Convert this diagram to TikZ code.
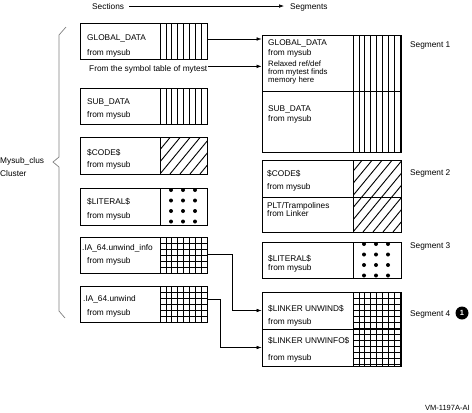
\documentclass[tikz,border=0pt]{standalone}
\usepackage{fontspec}
\setmainfont{Liberation Sans}
\usetikzlibrary{arrows.meta}
\tikzset{
  pat/.style={line width=0.8pt},
  box/.style={draw, line width=0.8pt, inner sep=0pt, rectangle},
  txt/.style={anchor=base west, inner sep=0pt},
  arr/.style={line width=0.6pt, -{Latex[length=5pt,width=3.6pt]}},
  conn/.style={line width=0.6pt},
}
\newcommand\myvlines[4]{\begin{scope}\clip (#1,#2) rectangle (#3,#4);
  \foreach \k in {0,...,9} \draw[pat] ({#1+\k*5.9},#2) -- ({#1+\k*5.9},#4);\end{scope}}
\newcommand\myhatch[4]{\begin{scope}\clip (#1,#2) rectangle (#3,#4);
  \foreach \k in {-8,...,8} \draw[line width=0.9pt] ({#1+\k*10},#4) -- ++(70,-85);\end{scope}}
\newcommand\mydots[4]{\begin{scope}\clip (#1,#2) rectangle (#3,#4);
  \foreach \c in {11,23,35} \foreach \r in {2,12.5,23,33.5} \fill ({#1+\c},{#2+\r}) circle (2);\end{scope}}
\newcommand\mygrid[4]{\begin{scope}\clip (#1,#2) rectangle (#3,#4);
  \foreach \k in {0,...,9} \draw[pat] ({#1+\k*5.9},#2) -- ({#1+\k*5.9},#4);
  \foreach \k in {1,...,12} \draw[pat] (#1,{#2+\k*6}) -- (#3,{#2+\k*6});\end{scope}}
\begin{document}
\begin{tikzpicture}[x=1pt,y=-1pt,font=\fontsize{8.3}{9}\selectfont]
\useasboundingbox (0,0) rectangle (472,413);
% header
\node[txt] (sec) at (92,9) {Sections};
\node[txt] (segs) at (290,9) {Segments};
\coordinate (h1) at ([xshift=5pt]sec.east);
\draw[arr] (h1) -- ([xshift=-6pt]h1 -| segs.west);
% cluster brace
\draw[gray, line width=0.7pt] (66,27) -- (59,35) -- (59,157) -- (53,162) -- (59,167) -- (59,311) -- (65,318);
\node[txt] (cl1) at (0,163) {Mysub\_clus};
\node[txt] (cl2) at (0,176) {Cluster};
% left patterns
\myvlines{160}{23}{207}{59}
\myvlines{160}{88}{207}{124}
\myhatch{160}{137}{207}{174}
\mydots{160}{188}{207}{225}
\mygrid{160}{237}{207}{273}
\mygrid{160}{286}{207}{322}
% left boxes
\node[box, minimum width=127pt, minimum height=36pt] (gd) at (143.5,41) {};
\node[box, minimum width=127pt, minimum height=36pt] (sd) at (143.5,106) {};
\node[box, minimum width=127pt, minimum height=37pt] (cd) at (143.5,155.5) {};
\node[box, minimum width=127pt, minimum height=37pt] (lt) at (143.5,206.5) {};
\node[box, minimum width=127pt, minimum height=36pt] (ui) at (143.5,255) {};
\node[box, minimum width=127pt, minimum height=36pt] (uw) at (143.5,304) {};
\foreach \y/\h in {23/59,88/124,137/174,188/225,237/273,286/322} \draw[line width=0.8pt] (160,\y) -- (160,\h);
% left texts
\node[txt] at (87,40) {GLOBAL\_DATA};
\node[txt] at (87,55) {from mysub};
\node[txt] (sym) at (89,71) {From the symbol table of mytest};
\node[txt] at (87,104) {SUB\_DATA};
\node[txt] at (87,117) {from mysub};
\node[txt] at (87,155) {\$CODE\$};
\node[txt] at (87,167) {from mysub};
\node[txt] at (87,204) {\$LITERAL\$};
\node[txt] at (87,218) {from mysub};
\node[txt] at (82,250) {.IA\_64.unwind\_info};
\node[txt] at (87,263) {from mysub};
\node[txt] at (83,301) {.IA\_64.unwind};
\node[txt] at (87,315) {from mysub};
% right patterns
\myvlines{353}{35}{401}{152}
\myhatch{353}{160}{401}{232}
\mydots{353}{242}{401}{278}
\mygrid{353}{292}{401}{366}
% right boxes
\node[box, minimum width=139pt, minimum height=56pt] (s1a) at (331.5,63) {};
\node[box, minimum width=139pt, minimum height=61pt] (s1b) at (331.5,121.5) {};
\node[box, minimum width=139pt, minimum height=37pt] (s2a) at (331.5,178.5) {};
\node[box, minimum width=139pt, minimum height=35pt] (s2b) at (331.5,214.5) {};
\node[box, minimum width=139pt, minimum height=36pt] (s3) at (331.5,260) {};
\node[box, minimum width=139pt, minimum height=37pt] (s4a) at (331.5,310.5) {};
\node[box, minimum width=139pt, minimum height=37pt] (s4b) at (331.5,347.5) {};
\foreach \y/\h in {35/152,160/232,242/278,292/366} \draw[line width=0.8pt] (353,\y) -- (353,\h);
% right texts
\node[txt] at (268,45) {GLOBAL\_DATA};
\node[txt] at (268,55) {from mysub};
\node[txt, font=\fontsize{7.8}{8}\selectfont] at (268,66) {Relaxed ref/def};
\node[txt, font=\fontsize{7.8}{8}\selectfont] at (268,74) {from mytest finds};
\node[txt, font=\fontsize{7.8}{8}\selectfont] at (268,82) {memory here};
\node[txt] at (268,111) {SUB\_DATA};
\node[txt] at (268,121) {from mysub};
\node[txt] at (267,176) {\$CODE\$};
\node[txt] at (267,189) {from mysub};
\node[txt] at (267,208) {PLT/Trampolines};
\node[txt] at (267,216) {from Linker};
\node[txt] at (268,261) {\$LITERAL\$};
\node[txt] at (268,270) {from mysub};
\node[txt] at (268,311) {\$LINKER UNWIND\$};
\node[txt] at (268,324) {from mysub};
\node[txt] at (268,343) {\$LINKER UNWINFO\$};
\node[txt] at (268,360) {from mysub};
% segment labels
\node[txt] (g1) at (410,47) {Segment 1};
\node[txt] (g2) at (410,175) {Segment 2};
\node[txt] (g3) at (410,248) {Segment 3};
\node[txt] (g4) at (410,316) {Segment 4};
\node[circle, fill=black, text=white, inner sep=0pt, minimum size=13pt, font=\bfseries\fontsize{7.5}{7.5}\selectfont] (n1) at (462,313) {1};
\node[txt, font=\fontsize{7.5}{8}\selectfont] (vm) at (425,410) {VM-1197A-AI};
% connectors
\draw[arr] ([yshift=2pt]gd.east) -- ([yshift=2pt]gd.east -| s1a.west);
\draw[arr] ([xshift=1pt,yshift=2.5pt]sym.east) -- ([yshift=2.5pt]sym.east -| s1a.west);
\draw[conn] ([yshift=1pt]ui.east) -- ++(25,0) coordinate (k1);
\draw[arr] (k1) |- (s4a.west);
\draw[conn] ([yshift=5pt]uw.east) -- ++(13,0) coordinate (k2);
\draw[arr] (k2) |- (s4b.west);
\end{tikzpicture}
\end{document}
